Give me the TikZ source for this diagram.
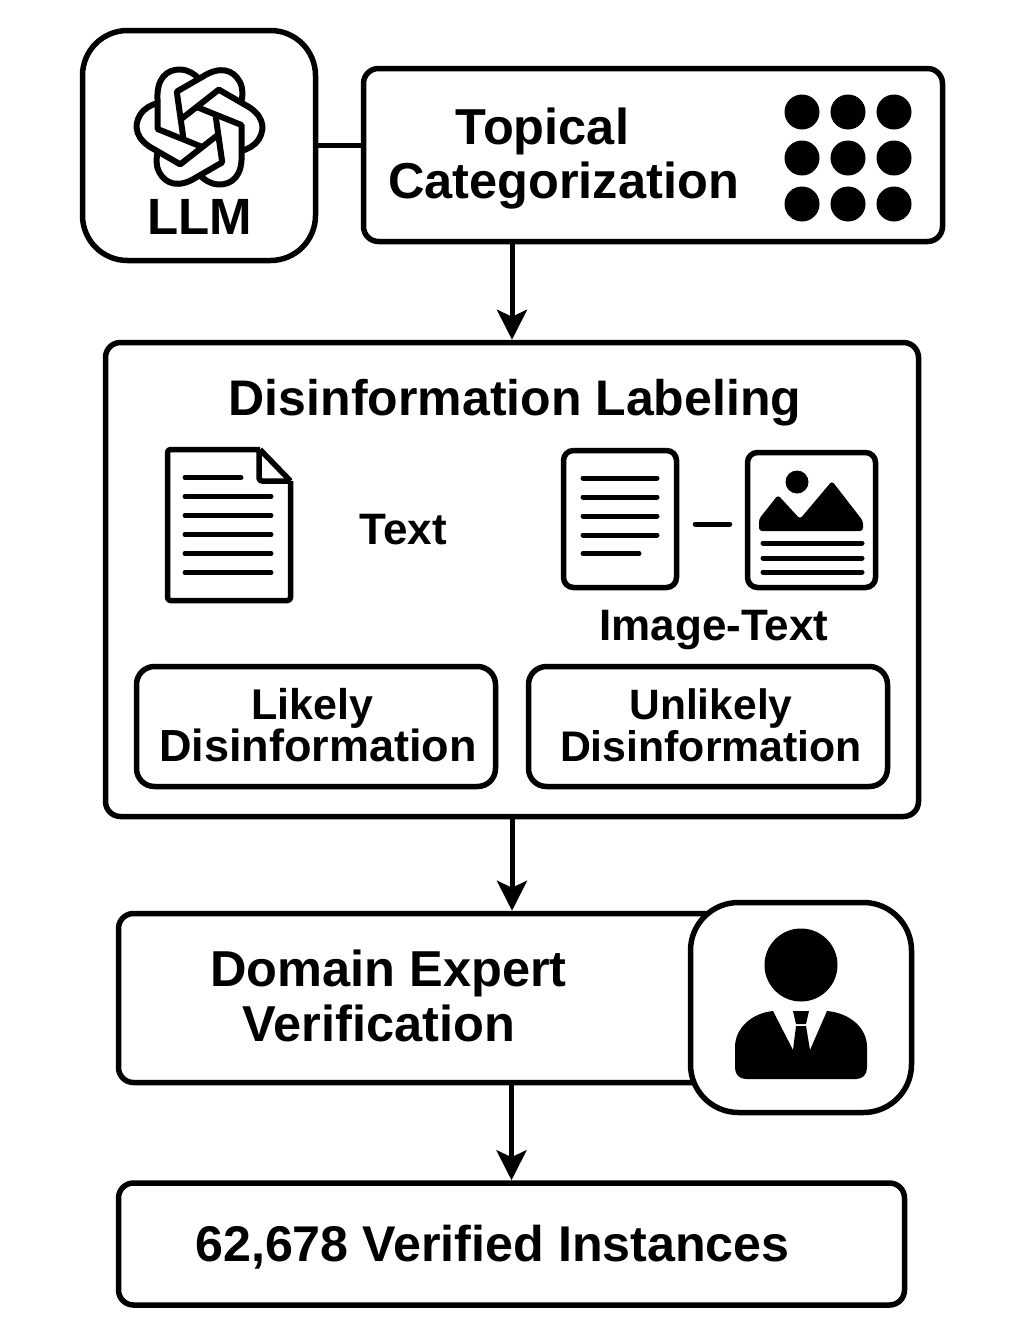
\documentclass[tikz,border=0pt]{standalone}
\usepackage{fontspec}
\setmainfont{Liberation Sans}
\usetikzlibrary{arrows.meta}

\begin{document}
\begin{tikzpicture}[
    x=1pt, y=-1pt,
    panel/.style={
        rectangle,
        draw=black,
        line width=5.5pt,
        fill=white,
        rounded corners=#1
    },
    panel/.default=15pt,
    label/.style={
        anchor=base,
        inner sep=0pt,
        font=\fontsize{#1}{#1}\selectfont\bfseries
    },
    flow/.style={
        line width=5pt,
        -{Stealth[length=30pt,width=30pt,inset=7pt]}
    },
    rule/.style={line width=5pt, line cap=round}
]
\useasboundingbox (0,0) rectangle (1024,1325);

% boxes
\node[panel=45pt, minimum width=233pt, minimum height=230pt] (llm) at (199,145.5) {};
\node[panel, minimum width=579pt, minimum height=173pt] (topical) at (653,155) {};
\node[panel, minimum width=813pt, minimum height=474pt] (disinfo) at (512,579.5) {};
\node[panel=18pt, minimum width=359pt, minimum height=120pt] (likely) at (316,726.5) {};
\node[panel=18pt, minimum width=359pt, minimum height=120pt] (unlikely) at (708,726.5) {};
\node[panel, minimum width=683pt, minimum height=169pt] (domain) at (460,998) {};
\node[panel=48pt, minimum width=221pt, minimum height=210pt] (expert) at (801,1007.5) {};
\node[panel, minimum width=786pt, minimum height=122pt] (verified) at (511.5,1244) {};
\node[panel=10pt, minimum width=113pt, minimum height=137pt] (textdoc) at (620,519) {};
\node[panel=10pt, minimum width=128pt, minimum height=135pt] (imagedoc) at (811.5,520) {};

% connectors
\draw[line width=5pt] (llm.east) -- (llm.east -| topical.west);
\draw[flow] (disinfo.north |- topical.south) -- (disinfo.north);
\draw[flow] (disinfo.south) -- (disinfo.south |- domain.north);
\draw[flow] (verified.north |- domain.south) -- (verified.north);
\draw[rule, shorten <=16pt, shorten >=15pt] ([yshift=-5pt]textdoc.east) -- ([yshift=-4pt]imagedoc.west);

% labels
\node[label=51] (llmlabel) at (199.5,234.5) {LLM};
\node[label=50.5] (topicalone) at (542.5,144) {Topical};
\node[label=50.5] (topicaltwo) at (563.5,198) {Categorization};
\node[label=50] (disinfolabel) at (515,415) {Disinformation Labeling};
\node[label=44] (textlabel) at (403.5,544) {Text};
\node[label=44] (imagelabel) at (714,640) {Image-Text};
\node[label=43] (likelyone) at (312,719) {Likely};
\node[label=45] (likelytwo) at (318,761) {Disinformation};
\node[label=42.5] (unlikelyone) at (711,719) {Unlikely};
\node[label=42.8] (unlikelytwo) at (711,761) {Disinformation};
\node[label=50.5] (domainone) at (388.5,986) {Domain Expert};
\node[label=50.5] (domaintwo) at (379,1041) {Verification};
\node[label=50.2] (verifiedlabel) at (492.5,1261) {62,678 Verified Instances};

% llm knot
\foreach \ang in {0,60,...,300}{
    \begin{scope}[shift={(199.5,127)}, rotate=\ang]
        \draw[line width=6pt, line join=round]
            (1.5,19.5) -- (-42,2) -- (-42,-28)
            .. controls (-43,-48) and (-33,-58) .. (-19,-57.5)
            .. controls (-11,-57) and (-5,-53) .. (0,-48);
    \end{scope}
}

% dot grid
\foreach \px in {802,848,894}{
    \foreach \py in {112,158,204}{
        \fill (\px,\py) circle (17.5);
    }
}

% text icon with folded corner
\draw[line width=5.5pt, line join=round, rounded corners=3pt]
    (260,449.5) -- (167.5,449.5) -- (167.5,600.5) -- (290.5,600.5) -- (290.5,481);
\draw[line width=5.5pt, line join=round]
    (260,449.5) -- (290.5,481);
\draw[line width=5.5pt, line join=round, rounded corners=3pt]
    (259,449.5) -- (259,481) -- (290.5,481);
\draw[rule] (185,477.5) -- (241,477.5);
\foreach \py in {496.5,515.5,534.5,553.5,572.5}{
    \draw[rule] (185,\py) -- (271,\py);
}

% lines of the plain page
\foreach \py in {478,497,516,535}{
    \draw[rule] (583,\py) -- (657,\py);
}
\draw[rule] (583,553.5) -- (639,553.5);

% picture page
\fill (797,482) circle (11.5);
\fill[rounded corners=3pt]
    (759,531) -- (759,519) -- (778,495) -- (800,519) -- (832,481) -- (863,521) -- (863,531) -- cycle;
\foreach \py in {543,558,572}{
    \draw[rule] (763,\py) -- (862,\py);
}

% person
\fill (801,965) circle (36.5);
\fill
    (773,1011) -- (793,1050) -- (796,1026) -- (806,1026) -- (810,1050) -- (827,1011)
    .. controls (850,1013) and (867,1028) .. (867,1047)
    -- (867,1068) .. controls (867,1075) and (862,1079) .. (856,1079)
    -- (746,1079) .. controls (740,1079) and (735,1075) .. (735,1068)
    -- (735,1047) .. controls (735,1028) and (752,1013) .. (773,1011) -- cycle;
\fill (793,1011) -- (809,1011) -- (806,1024) -- (796,1024) -- cycle;

\end{tikzpicture}
\end{document}
